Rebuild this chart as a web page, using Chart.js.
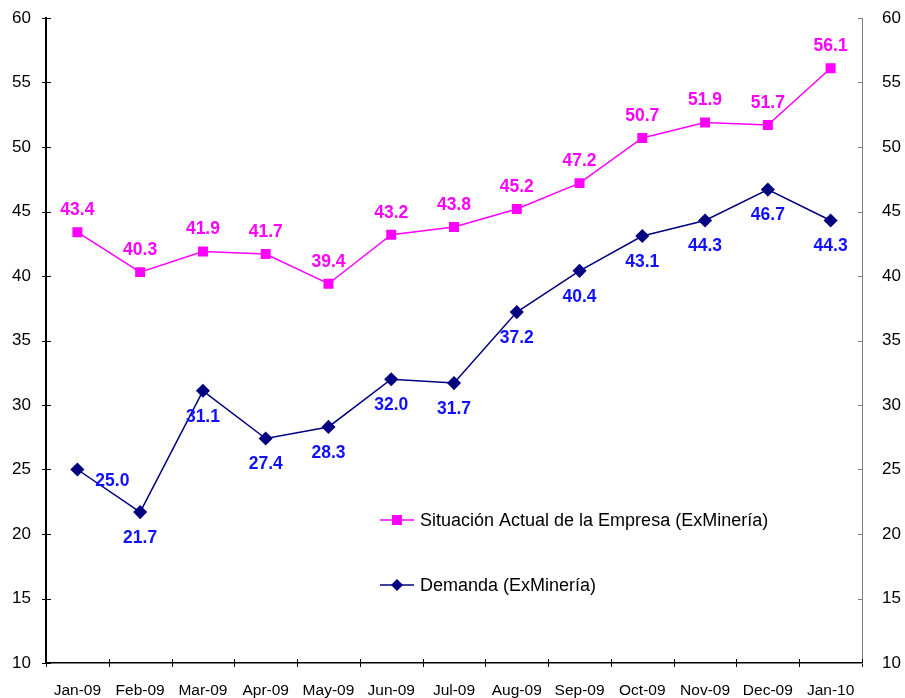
<!DOCTYPE html>
<html>
<head>
<meta charset="utf-8">
<script src="https://cdn.jsdelivr.net/npm/chart.js@4"></script>
<style>
  body { margin: 0; background: #fff; }
  #wrap { width: 905px; height: 698px; position: relative; }
</style>
</head>
<body>
<div id="wrap"><canvas id="chart"></canvas></div>
<script>
const months = ['Jan-09', 'Feb-09', 'Mar-09', 'Apr-09', 'May-09', 'Jun-09', 'Jul-09', 'Aug-09', 'Sep-09', 'Oct-09', 'Nov-09', 'Dec-09', 'Jan-10'];
const situacion = [43.4, 40.3, 41.9, 41.7, 39.4, 43.2, 43.8, 45.2, 47.2, 50.7, 51.9, 51.7, 56.1];
const demanda = [25.0, 21.7, 31.1, 27.4, 28.3, 32.0, 31.7, 37.2, 40.4, 43.1, 44.3, 46.7, 44.3];
const yTicks = [10, 15, 20, 25, 30, 35, 40, 45, 50, 55, 60];

const PINK = '#ff00ff';
const NAVY = '#000080';
const BLUE = '#1010ff';

// value labels, legend and crossing tick marks
const extras = {
    id: 'extras',
    afterDatasetsDraw(chart) {
        const ctx = chart.ctx;
        ctx.save();
        ctx.font = 'bold 17.5px "Liberation Sans", Arial, sans-serif';
        ctx.textAlign = 'center';
        ctx.textBaseline = 'middle';
        chart.getDatasetMeta(0).data.forEach((pt, i) => {
            ctx.fillStyle = PINK;
            ctx.fillText(situacion[i].toFixed(1), pt.x, pt.y - 22);
        });
        chart.getDatasetMeta(1).data.forEach((pt, i) => {
            ctx.fillStyle = BLUE;
            if (i === 0) {
                ctx.fillText(demanda[i].toFixed(1), pt.x + 35, pt.y + 12);
            } else {
                ctx.fillText(demanda[i].toFixed(1), pt.x, pt.y + 26);
            }
        });

        // legend inside plot
        const items = [
            { text: 'Situación Actual de la Empresa (ExMinería)', color: PINK, style: 'rect', y: 520 },
            { text: 'Demanda (ExMinería)', color: NAVY, style: 'rectRot', y: 585 }
        ];
        ctx.font = '18px "Liberation Sans", Arial, sans-serif';
        ctx.textAlign = 'left';
        items.forEach(it => {
            ctx.strokeStyle = it.color;
            ctx.lineWidth = 1.5;
            ctx.beginPath();
            ctx.moveTo(380, it.y);
            ctx.lineTo(414, it.y);
            ctx.stroke();
            ctx.fillStyle = it.color;
            ctx.beginPath();
            if (it.style === 'rect') {
                ctx.rect(392, it.y - 5, 10, 10);
            } else {
                ctx.moveTo(397, it.y - 6);
                ctx.lineTo(403, it.y);
                ctx.lineTo(397, it.y + 6);
                ctx.lineTo(391, it.y);
                ctx.closePath();
            }
            ctx.fill();
            ctx.fillStyle = '#000';
            ctx.fillText(it.text, 420, it.y + 1);
        });

        // tick marks
        const y = chart.scales.y, y2 = chart.scales.y2;
        const area = chart.chartArea;
        ctx.lineWidth = 1;
        ctx.strokeStyle = '#000';
        ctx.beginPath();
        yTicks.forEach(v => {
            const py = Math.round(y.getPixelForValue(v)) + 0.5;
            ctx.moveTo(area.left - 4, py);
            ctx.lineTo(area.left + 5, py);
        });
        for (let i = 0; i <= months.length; i++) {
            const px = Math.round(area.left + (area.right - area.left) * i / months.length) + 0.5;
            ctx.moveTo(px, area.bottom - 4);
            ctx.lineTo(px, area.bottom + 4);
        }
        ctx.stroke();
        ctx.strokeStyle = '#808080';
        ctx.beginPath();
        yTicks.forEach(v => {
            const py = Math.round(y2.getPixelForValue(v)) + 0.5;
            ctx.moveTo(area.right - 4, py);
            ctx.lineTo(area.right + 1, py);
        });
        ctx.stroke();
        ctx.restore();
    }
};

function fitY(width) {
    return s => {
        s.width = width;
        s.paddingTop = 0;
        s.paddingBottom = 0;
    };
}

const ctx = document.getElementById('chart').getContext('2d');
new Chart(ctx, {
    type: 'line',
    data: {
        labels: months,
        datasets: [
            {
                label: 'Situación Actual de la Empresa (ExMinería)',
                data: situacion,
                borderColor: PINK,
                backgroundColor: PINK,
                borderWidth: 1.5,
                pointStyle: 'rect',
                pointRadius: 6,
                pointHoverRadius: 6,
                tension: 0,
                yAxisID: 'y'
            },
            {
                label: 'Demanda (ExMinería)',
                data: demanda,
                borderColor: NAVY,
                backgroundColor: NAVY,
                borderWidth: 1.5,
                pointStyle: 'rectRot',
                pointRadius: 6,
                pointHoverRadius: 6,
                tension: 0,
                yAxisID: 'y'
            }
        ]
    },
    options: {
        responsive: true,
        maintainAspectRatio: false,
        animation: false,
        layout: { padding: { top: 18, left: 0, right: 0, bottom: 0 } },
        plugins: {
            legend: { display: false },
            tooltip: { enabled: false }
        },
        scales: {
            x: {
                offset: true,
                grid: { display: false },
                border: { color: '#000', width: 1.5 },
                ticks: {
                    color: '#000',
                    font: { family: '"Liberation Sans", Arial, sans-serif', size: 15.5 },
                    padding: 10,
                    maxRotation: 0,
                    autoSkip: false
                },
                afterFit: s => { s.height = 35; }
            },
            y: {
                position: 'left',
                min: 10,
                max: 60,
                grid: { display: false },
                border: { color: '#000', width: 2 },
                ticks: {
                    stepSize: 5,
                    color: '#000',
                    padding: 7,
                    font: { family: '"Liberation Sans", Arial, sans-serif', size: 17 }
                },
                afterFit: fitY(46)
            },
            y2: {
                position: 'right',
                min: 10,
                max: 60,
                grid: { display: false },
                border: { color: '#808080', width: 1 },
                ticks: {
                    stepSize: 5,
                    color: '#000',
                    padding: 12,
                    font: { family: '"Liberation Sans", Arial, sans-serif', size: 17 }
                },
                afterFit: fitY(43)
            }
        }
    },
    plugins: [extras]
});
</script>
</body>
</html>
